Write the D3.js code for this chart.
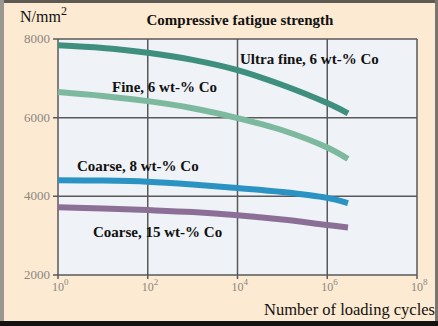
<!DOCTYPE html>
<html><head><meta charset="utf-8">
<script src="https://cdn.jsdelivr.net/npm/d3@7"></script>
<style>html,body{margin:0;padding:0;background:#fff;}svg{display:block;}</style>
</head><body>
<script>
const cycles = [1, 10, 100, 1e3, 1e4, 1e5, 1e6, 2.9e6];
const seriesNames = ["Ultra fine, 6 wt-% Co", "Fine, 6 wt-% Co", "Coarse, 8 wt-% Co", "Coarse, 15 wt-% Co"];
const ultraFine = [7840, 7770, 7650, 7470, 7210, 6830, 6370, 6110];
const fine = [6650, 6550, 6420, 6240, 5990, 5680, 5240, 4950];
const coarse8 = [4410, 4400, 4370, 4300, 4210, 4110, 3960, 3830];
const coarse15 = [3720, 3690, 3650, 3600, 3520, 3410, 3270, 3210];
const yTicks = [2000, 4000, 6000, 8000];
const xTicks = [1, 1e2, 1e4, 1e6, 1e8];
const xTickExp = ["0", "2", "4", "6", "8"];

const W = 438, H = 326;
const serif = "'Liberation Serif', 'Times New Roman', serif";
const svg = d3.select("body").append("svg").attr("width", W).attr("height", H);
// background + frame
svg.append("rect").attr("x",0).attr("y",0).attr("width",W).attr("height",H).attr("fill","#fdead2");
svg.append("rect").attr("x",0).attr("y",0).attr("width",W).attr("height",3).attr("fill","#5e5952");
svg.append("rect").attr("x",0).attr("y",0).attr("width",4).attr("height",H).attr("fill","#9a9690");
svg.append("rect").attr("x",W-3).attr("y",0).attr("width",3).attr("height",H).attr("fill","#7a756e");
svg.append("rect").attr("x",0).attr("y",H-5).attr("width",W).attr("height",5).attr("fill","#141210");

const x = d3.scaleLog().domain([1, 1e8]).range([58, 417]);
const y = d3.scaleLinear().domain([2000, 8000]).range([275, 39]);

svg.append("rect").attr("x", x(1)).attr("y", y(8000)).attr("width", x(1e8)-x(1)).attr("height", y(2000)-y(8000)).attr("fill","#eff2f6");

// grid
const g = svg.append("g");
g.selectAll("line.v").data(xTicks).join("line")
  .attr("x1", d=>x(d)).attr("x2", d=>x(d)).attr("y1", y(8000)).attr("y2", y(2000)+4)
  .attr("stroke","#58595b").attr("stroke-width",1.5);
g.selectAll("line.h").data(yTicks).join("line")
  .attr("x1", x(1)-5).attr("x2", x(1e8)).attr("y1", d=>y(d)).attr("y2", d=>y(d))
  .attr("stroke","#58595b").attr("stroke-width",1.5);

// y tick labels
svg.selectAll("text.yt").data(yTicks).join("text")
  .attr("x", 50).attr("y", d=>y(d)+4).attr("text-anchor","end")
  .attr("font-family",serif).attr("font-size",13).attr("fill","#8a8680")
  .text(d=>d);
// x tick labels
const xt = svg.selectAll("text.xt").data(xTicks).join("text")
  .attr("x", d=>x(d)-6).attr("y", 291)
  .attr("font-family",serif).attr("font-size",12).attr("fill","#8a8680");
xt.append("tspan").text("10");
xt.append("tspan").attr("dy",-6).attr("font-size",9).text((d,i)=>xTickExp[i]);

// lines
const data = [
  {name: seriesNames[0], vals: ultraFine, color: "#3f8f7e"},
  {name: seriesNames[1], vals: fine, color: "#7db99e"},
  {name: seriesNames[2], vals: coarse8, color: "#2b93c3"},
  {name: seriesNames[3], vals: coarse15, color: "#8c6f96"}
];
const line = d3.line().x(d=>x(d[0])).y(d=>y(d[1])).curve(d3.curveCatmullRom);
svg.selectAll("path.s").data(data).join("path")
  .attr("d", d=>line(cycles.map((c,i)=>[c, d.vals[i]])))
  .attr("fill","none").attr("stroke", d=>d.color).attr("stroke-width",6);

// series labels
const labelPos = [[240, 64], [112, 92], [77, 171], [93, 237]];
svg.selectAll("text.lab").data(data).join("text")
  .attr("x",(d,i)=>labelPos[i][0]).attr("y",(d,i)=>labelPos[i][1])
  .attr("font-family",serif).attr("font-weight","bold").attr("font-size",15).attr("fill","#111")
  .text(d=>d.name);

// title and axis titles
svg.append("text").attr("x", 240).attr("y", 25).attr("text-anchor","middle")
  .attr("font-family",serif).attr("font-weight","bold").attr("font-size",15).attr("fill","#111")
  .text("Compressive fatigue strength");
const yl = svg.append("text").attr("x", 20).attr("y", 22)
  .attr("font-family",serif).attr("font-size",16).attr("fill","#111");
yl.append("tspan").text("N/mm");
yl.append("tspan").attr("dy",-7).attr("font-size",12).text("2");
svg.append("text").attr("x", 435).attr("y", 315).attr("text-anchor","end")
  .attr("font-family",serif).attr("font-size",16.5).attr("fill","#111")
  .text("Number of loading cycles");
</script>
</body></html>
